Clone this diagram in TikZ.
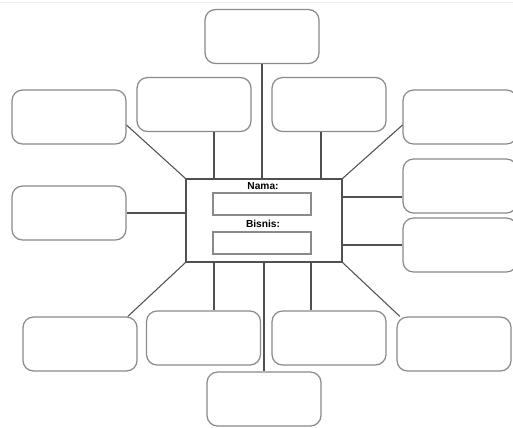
\documentclass[tikz,border=0pt]{standalone}
\usepackage{fontspec}
\setmainfont{Liberation Sans}
\definecolor{boxgray}{HTML}{8A8A8A}
\definecolor{linegray}{HTML}{505050}
\definecolor{edgegray}{HTML}{EFEFEF}
\tikzset{
    ideabox/.style={draw=boxgray,line width=0.7pt,rounded corners=6pt,
        minimum width=2.28cm,minimum height=1.08cm,inner sep=0pt},
    fieldbox/.style={draw=boxgray,line width=0.7pt,
        minimum width=1.96cm,minimum height=0.44cm,inner sep=0pt},
    spoke/.style={draw=linegray,line width=0.6pt},
    fieldlabel/.style={inner sep=0pt,font=\fontsize{5.8}{7}\selectfont\bfseries}
}
\begin{document}
\begin{tikzpicture}[x=0.02cm,y=-0.02cm]
\useasboundingbox[fill=white] (0,0) rectangle (513,427);

% Faint top edge
\draw[edgegray,line width=0.6pt] (0,2.5) -- (513,2.5);

% Central box
\node[draw=linegray,line width=0.6pt,minimum width=3.12cm,minimum height=1.66cm,inner sep=0pt]
    (main) at (264,220.5) {};
\node[fieldlabel] (nama) at (263,186.5) {Nama:};
\node[fieldbox] (namafield) at (262,204) {};
\node[fieldlabel] (bisnis) at (263,223.5) {Bisnis:};
\node[fieldbox] (bisnisfield) at (262,243) {};

% Upper boxes
\node[ideabox] (top) at (262,36.5) {};
\node[ideabox] (upleft) at (194,104.5) {};
\node[ideabox] (upright) at (329,104.5) {};
\node[ideabox] (farleft) at (69,117) {};
\node[ideabox] (farright) at (460,117) {};

% Side boxes
\node[ideabox] (midleft) at (69,213) {};
\node[ideabox] (rightone) at (460,186) {};
\node[ideabox] (righttwo) at (460,245) {};

% Lower boxes
\node[ideabox] (lowleft) at (80,344) {};
\node[ideabox] (lowmidleft) at (203.5,338) {};
\node[ideabox] (lowmidright) at (329,338) {};
\node[ideabox] (lowright) at (454,344) {};
\node[ideabox] (bottom) at (264,399) {};

% Spokes above
\draw[spoke] (top.south) -- (top.south |- main.north);
\draw[spoke] (upleft.south -| 214,0) -- (main.north -| 214,0);
\draw[spoke] (upright.south -| 321,0) -- (main.north -| 321,0);
\draw[spoke] (farleft.-8) -- (main.north west);
\draw[spoke] (farright.188) -- (main.north east);

% Spokes at the sides
\draw[spoke] (midleft.east) -- (midleft.east -| main.west);
\draw[spoke] (main.east |- 0,197) -- (rightone.west |- 0,197);
\draw[spoke] (main.east |- righttwo.west) -- (righttwo.west);

% Spokes below
\draw[spoke] (main.south west) -- (lowleft.30);
\draw[spoke] (main.south -| 214,0) -- (lowmidleft.north -| 214,0);
\draw[spoke] (main.south) -- (bottom.north);
\draw[spoke] (main.south -| 311,0) -- (lowmidright.north -| 311,0);
\draw[spoke] (main.south east) -- (lowright.153);

\end{tikzpicture}
\end{document}
